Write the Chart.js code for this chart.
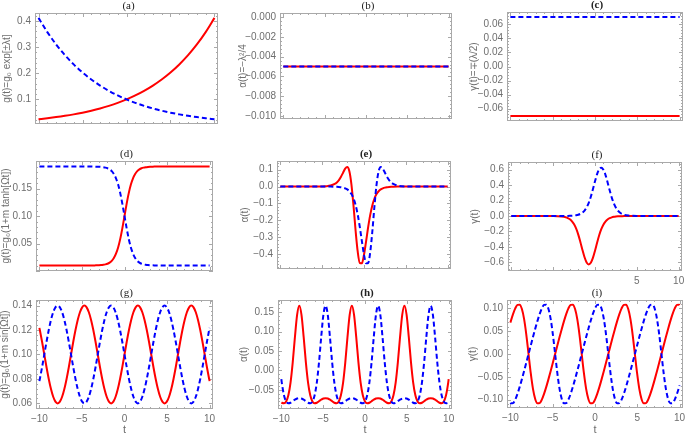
<!DOCTYPE html>
<html>
<head>
<meta charset="utf-8">
<script src="https://cdn.jsdelivr.net/npm/chart.js@4.4.1/dist/chart.umd.min.js"></script>
<style>
  html, body { margin: 0; padding: 0; background: #fff; }
  #figure { position: relative; width: 685px; height: 437px; overflow: hidden; background: #fff; }
  #figure canvas { position: absolute; }
</style>
</head>
<body>
<div id="figure"></div>
<script>
// ---- data ----

// (a),(b),(c): exponential coupling
var tExp = [-10, -9, -8, -7, -6, -5, -4, -3, -2, -1, 0, 1, 2, 3, 4, 5, 6, 7, 8, 9, 10];
var expRed = [0.0243, 0.0280, 0.0323, 0.0372, 0.0428, 0.0493, 0.0568, 0.0654, 0.0754, 0.0868, 0.1000,
  0.1152, 0.1327, 0.1529, 0.1761, 0.2028, 0.2336, 0.2691, 0.3100, 0.3571, 0.4113];
var expBlue = [0.4113, 0.3571, 0.3100, 0.2691, 0.2336, 0.2028, 0.1761, 0.1529, 0.1327, 0.1152, 0.1000,
  0.0868, 0.0754, 0.0654, 0.0568, 0.0493, 0.0428, 0.0372, 0.0323, 0.0280, 0.0243];

var tFlat = [-10, 10];
var alphaFlatRed = [-0.005, -0.005];
var alphaFlatBlue = [-0.005, -0.005];
var gammaFlatRed = [-0.0707, -0.0707];
var gammaFlatBlue = [0.0707, 0.0707];

// (d),(e),(f): tanh coupling
var tPulse = [-10, -9, -8, -7, -6, -5, -4.5, -4, -3.5, -3.25, -3, -2.75, -2.5, -2.25, -2, -1.75, -1.5, -1.25, -1, -0.75, -0.5, -0.25,
  0, 0.25, 0.5, 0.75, 1, 1.25, 1.5, 1.75, 2, 2.25, 2.5, 2.75, 3, 3.25, 3.5, 4, 4.5, 5, 6, 7, 8, 9, 10];
var tanhRed = [0.0100, 0.0100, 0.0100, 0.0100, 0.0100, 0.0100, 0.0100, 0.0101, 0.0102, 0.0103, 0.0104, 0.0107, 0.0112, 0.0120, 0.0132, 0.0153, 0.0185, 0.0237, 0.0315, 0.0428, 0.0584, 0.0780,
  0.1000, 0.1220, 0.1416, 0.1572, 0.1685, 0.1763, 0.1815, 0.1847, 0.1868, 0.1880, 0.1888, 0.1893, 0.1896, 0.1897, 0.1898, 0.1899, 0.1900, 0.1900, 0.1900, 0.1900, 0.1900, 0.1900, 0.1900];
var tanhBlue = [0.1900, 0.1900, 0.1900, 0.1900, 0.1900, 0.1900, 0.1900, 0.1899, 0.1898, 0.1897, 0.1896, 0.1893, 0.1888, 0.1880, 0.1868, 0.1847, 0.1815, 0.1763, 0.1685, 0.1572, 0.1416, 0.1220,
  0.1000, 0.0780, 0.0584, 0.0428, 0.0315, 0.0237, 0.0185, 0.0153, 0.0132, 0.0120, 0.0112, 0.0107, 0.0104, 0.0103, 0.0102, 0.0101, 0.0100, 0.0100, 0.0100, 0.0100, 0.0100, 0.0100, 0.0100];
var alphaPulseRed = [0, 0, 0, 0, 0.0001, 0.0008, 0.0022, 0.0059, 0.0155, 0.0248, 0.0387, 0.0584, 0.0826, 0.1064, 0.1162, 0.0907, 0.0120, -0.1167, -0.2643, -0.3874, -0.4541, -0.4559,
  -0.4050, -0.3252, -0.2404, -0.1669, -0.1106, -0.0709, -0.0446, -0.0276, -0.0170, -0.0104, -0.0063, -0.0039, -0.0023, -0.0014, -0.0009, -0.0003, -0.0001, 0, 0, 0, 0, 0, 0];
var alphaPulseBlue = [0, 0, 0, 0, 0, 0, -0.0001, -0.0003, -0.0009, -0.0014, -0.0023, -0.0039, -0.0063, -0.0104, -0.0170, -0.0276, -0.0446, -0.0709, -0.1106, -0.1669, -0.2404, -0.3252,
  -0.4050, -0.4559, -0.4541, -0.3874, -0.2643, -0.1167, 0.0120, 0.0907, 0.1162, 0.1064, 0.0826, 0.0584, 0.0387, 0.0248, 0.0155, 0.0059, 0.0022, 0.0008, 0.0001, 0, 0, 0, 0];
var gammaPulseRed = [0, 0, 0, 0, -0.0001, -0.0008, -0.0022, -0.0060, -0.0161, -0.0263, -0.0425, -0.0683, -0.1068, -0.1634, -0.2403, -0.3354, -0.4388, -0.5335, -0.6008, -0.6267, -0.6058, -0.5426,
  -0.4500, -0.3466, -0.2499, -0.1708, -0.1121, -0.0716, -0.0448, -0.0277, -0.0170, -0.0104, -0.0063, -0.0039, -0.0023, -0.0014, -0.0009, -0.0003, -0.0001, 0, 0, 0, 0, 0, 0];
var gammaPulseBlue = [0, 0, 0, 0, 0, 0, 0.0001, 0.0003, 0.0009, 0.0014, 0.0023, 0.0039, 0.0063, 0.0104, 0.0170, 0.0277, 0.0448, 0.0716, 0.1121, 0.1708, 0.2499, 0.3466,
  0.4500, 0.5426, 0.6058, 0.6267, 0.6008, 0.5335, 0.4388, 0.3354, 0.2403, 0.1634, 0.1068, 0.0683, 0.0425, 0.0263, 0.0161, 0.0060, 0.0022, 0.0008, 0.0001, 0, 0, 0, 0];

// (g),(h),(i): sin coupling
var tWave = [-10, -9.9484, -9.6866, -9.4248, -9.1630, -8.9012, -8.6394, -8.3776, -8.1158, -7.8540, -7.5922, -7.3304, -7.0686, -6.8068, -6.5450,
  -6.2832, -6.0214, -5.7596, -5.4978, -5.2360, -4.9742, -4.7124, -4.4506, -4.1888, -3.9270, -3.6652, -3.4034, -3.1416, -2.8798, -2.6180, -2.3562, -2.0944, -1.8326, -1.5708, -1.3090, -1.0472, -0.7854, -0.5236, -0.2618,
  0, 0.2618, 0.5236, 0.7854, 1.0472, 1.3090, 1.5708, 1.8326, 2.0944, 2.3562, 2.6180, 2.8798, 3.1416, 3.4034, 3.6652, 3.9270, 4.1888, 4.4506, 4.7124, 4.9742, 5.2360, 5.4978, 5.7596, 6.0214,
  6.2832, 6.5450, 6.8068, 7.0686, 7.3304, 7.5922, 7.8540, 8.1158, 8.3776, 8.6394, 8.9012, 9.1630, 9.4248, 9.6866, 9.9484, 10];
var sinRed = [0.1218, 0.1200, 0.1104, 0.1000, 0.0896, 0.0800, 0.0717, 0.0654, 0.0614, 0.0600, 0.0614, 0.0654, 0.0717, 0.0800, 0.0896,
  0.1000, 0.1104, 0.1200, 0.1283, 0.1346, 0.1386, 0.1400, 0.1386, 0.1346, 0.1283, 0.1200, 0.1104, 0.1000, 0.0896, 0.0800, 0.0717, 0.0654, 0.0614, 0.0600, 0.0614, 0.0654, 0.0717, 0.0800, 0.0896,
  0.1000, 0.1104, 0.1200, 0.1283, 0.1346, 0.1386, 0.1400, 0.1386, 0.1346, 0.1283, 0.1200, 0.1104, 0.1000, 0.0896, 0.0800, 0.0717, 0.0654, 0.0614, 0.0600, 0.0614, 0.0654, 0.0717, 0.0800, 0.0896,
  0.1000, 0.1104, 0.1200, 0.1283, 0.1346, 0.1386, 0.1400, 0.1386, 0.1346, 0.1283, 0.1200, 0.1104, 0.1000, 0.0896, 0.0800, 0.0782];
var sinBlue = [0.0782, 0.0800, 0.0896, 0.1000, 0.1104, 0.1200, 0.1283, 0.1346, 0.1386, 0.1400, 0.1386, 0.1346, 0.1283, 0.1200, 0.1104,
  0.1000, 0.0896, 0.0800, 0.0717, 0.0654, 0.0614, 0.0600, 0.0614, 0.0654, 0.0717, 0.0800, 0.0896, 0.1000, 0.1104, 0.1200, 0.1283, 0.1346, 0.1386, 0.1400, 0.1386, 0.1346, 0.1283, 0.1200, 0.1104,
  0.1000, 0.0896, 0.0800, 0.0717, 0.0654, 0.0614, 0.0600, 0.0614, 0.0654, 0.0717, 0.0800, 0.0896, 0.1000, 0.1104, 0.1200, 0.1283, 0.1346, 0.1386, 0.1400, 0.1386, 0.1346, 0.1283, 0.1200, 0.1104,
  0.1000, 0.0896, 0.0800, 0.0717, 0.0654, 0.0614, 0.0600, 0.0614, 0.0654, 0.0717, 0.0800, 0.0896, 0.1000, 0.1104, 0.1200, 0.1218];
var alphaWaveRed = [-0.0827, -0.0833, -0.0847, -0.0800, -0.0640, -0.0313, 0.0208, 0.0857, 0.1432, 0.1667, 0.1432, 0.0857, 0.0208, -0.0313, -0.0640,
  -0.0800, -0.0847, -0.0833, -0.0794, -0.0754, -0.0725, -0.0714, -0.0725, -0.0754, -0.0794, -0.0833, -0.0847, -0.0800, -0.0640, -0.0313, 0.0208, 0.0857, 0.1432, 0.1667, 0.1432, 0.0857, 0.0208, -0.0313, -0.0640,
  -0.0800, -0.0847, -0.0833, -0.0794, -0.0754, -0.0725, -0.0714, -0.0725, -0.0754, -0.0794, -0.0833, -0.0847, -0.0800, -0.0640, -0.0313, 0.0208, 0.0857, 0.1432, 0.1667, 0.1432, 0.0857, 0.0208, -0.0313, -0.0640,
  -0.0800, -0.0847, -0.0833, -0.0794, -0.0754, -0.0725, -0.0714, -0.0725, -0.0754, -0.0794, -0.0833, -0.0847, -0.0800, -0.0640, -0.0313, -0.0225];
var alphaWaveBlue = [-0.0225, -0.0313, -0.0640, -0.0800, -0.0847, -0.0833, -0.0794, -0.0754, -0.0725, -0.0714, -0.0725, -0.0754, -0.0794, -0.0833, -0.0847,
  -0.0800, -0.0640, -0.0313, 0.0208, 0.0857, 0.1432, 0.1667, 0.1432, 0.0857, 0.0208, -0.0313, -0.0640, -0.0800, -0.0847, -0.0833, -0.0794, -0.0754, -0.0725, -0.0714, -0.0725, -0.0754, -0.0794, -0.0833, -0.0847,
  -0.0800, -0.0640, -0.0313, 0.0208, 0.0857, 0.1432, 0.1667, 0.1432, 0.0857, 0.0208, -0.0313, -0.0640, -0.0800, -0.0847, -0.0833, -0.0794, -0.0754, -0.0725, -0.0714, -0.0725, -0.0754, -0.0794, -0.0833, -0.0847,
  -0.0800, -0.0640, -0.0313, 0.0208, 0.0857, 0.1432, 0.1667, 0.1432, 0.0857, 0.0208, -0.0313, -0.0640, -0.0800, -0.0847, -0.0833, -0.0827];
var gammaWaveRed = [0.0689, 0.0722, 0.0875, 0.1000, 0.1078, 0.1083, 0.0986, 0.0765, 0.0422, 0, -0.0422, -0.0765, -0.0986, -0.1083, -0.1078,
  -0.1000, -0.0875, -0.0722, -0.0551, -0.0371, -0.0187, 0, 0.0187, 0.0371, 0.0551, 0.0722, 0.0875, 0.1000, 0.1078, 0.1083, 0.0986, 0.0765, 0.0422, 0, -0.0422, -0.0765, -0.0986, -0.1083, -0.1078,
  -0.1000, -0.0875, -0.0722, -0.0551, -0.0371, -0.0187, 0, 0.0187, 0.0371, 0.0551, 0.0722, 0.0875, 0.1000, 0.1078, 0.1083, 0.0986, 0.0765, 0.0422, 0, -0.0422, -0.0765, -0.0986, -0.1083, -0.1078,
  -0.1000, -0.0875, -0.0722, -0.0551, -0.0371, -0.0187, 0, 0.0187, 0.0371, 0.0551, 0.0722, 0.0875, 0.1000, 0.1078, 0.1083, 0.1073];
var gammaWaveBlue = [-0.1072, -0.1083, -0.1078, -0.1000, -0.0875, -0.0722, -0.0551, -0.0371, -0.0187, 0, 0.0187, 0.0371, 0.0551, 0.0722, 0.0875,
  0.1000, 0.1078, 0.1083, 0.0986, 0.0765, 0.0422, 0, -0.0422, -0.0765, -0.0986, -0.1083, -0.1078, -0.1000, -0.0875, -0.0722, -0.0551, -0.0371, -0.0187, 0, 0.0187, 0.0371, 0.0551, 0.0722, 0.0875,
  0.1000, 0.1078, 0.1083, 0.0986, 0.0765, 0.0422, 0, -0.0422, -0.0765, -0.0986, -0.1083, -0.1078, -0.1000, -0.0875, -0.0722, -0.0551, -0.0371, -0.0187, 0, 0.0187, 0.0371, 0.0551, 0.0722, 0.0875,
  0.1000, 0.1078, 0.1083, 0.0986, 0.0765, 0.0422, 0, -0.0422, -0.0765, -0.0986, -0.1083, -0.1078, -0.1000, -0.0875, -0.0722, -0.0689];

// tick labels
var xTicks = [-10, -5, 0, 5, 10];
var yTicksA = [0.1, 0.2, 0.3, 0.4];
var yTicksB = [-0.010, -0.008, -0.006, -0.004, -0.002, 0.000];
var yTicksC = [-0.06, -0.04, -0.02, 0, 0.02, 0.04, 0.06];
var yTicksD = [0.05, 0.10, 0.15];
var yTicksE = [-0.4, -0.3, -0.2, -0.1, 0, 0.1];
var yTicksF = [-0.6, -0.4, -0.2, 0, 0.2, 0.4, 0.6];
var yTicksG = [0.06, 0.08, 0.10, 0.12, 0.14];
var yTicksH = [-0.05, 0, 0.05, 0.10, 0.15];
var yTicksI = [-0.10, -0.05, 0, 0.05, 0.10];

var labelFont = '"Liberation Sans", Arial, sans-serif';
var labelColor = '#6e6e6e';
var frameColor = '#a9a9a9';

// panel layout: cell = canvas box on the page, plot = frame box on the page
var panels = [
  { title: '(a)', cell: [0, 0, 228, 146], plot: [35, 13, 218, 124], t: tExp, red: expRed, blue: expBlue,
    yMin: 0.006, yMax: 0.43, yTicks: yTicksA, dec: 1, yLabel: 'g(t)=g\u2080 exp[\u00b1\u03bbt]', yPad: 1, xShown: [] },
  { title: '(b)', cell: [228, 0, 228, 146], plot: [280, 13, 452, 119], t: tFlat, red: alphaFlatRed, blue: alphaFlatBlue,
    yMin: -0.0103, yMax: 0.0004, yTicks: yTicksB, dec: 3, yLabel: '\u03b1(t)=\u2212\u03bb\u00b2/4', yPad: 9, xShown: [] },
  { title: '(c)', bold: true, cell: [456, 0, 229, 146], plot: [507, 12, 683, 121], t: tFlat, red: gammaFlatRed, blue: gammaFlatBlue,
    yMin: -0.0778, yMax: 0.0778, yTicks: yTicksC, dec: 2, yLabel: '\u03b3(t)=\u2213(\u03bb/2)', yPad: 12, xShown: [] },
  { title: '(d)', cell: [0, 146, 228, 139], plot: [36, 161, 213, 271], t: tPulse, red: tanhRed, blue: tanhBlue,
    yMin: 0.0, yMax: 0.2, yTicks: yTicksD, dec: 2, yLabel: 'g(t)=g\u2080(1+m tanh[\u03a9t])', yPad: 0, xShown: [] },
  { title: '(e)', bold: true, cell: [228, 146, 228, 139], plot: [277, 161, 451, 269], t: tPulse, red: alphaPulseRed, blue: alphaPulseBlue,
    yMin: -0.49, yMax: 0.152, yTicks: yTicksE, dec: 1, yLabel: '\u03b1(t)', yPad: 11, xShown: [] },
  { title: '(f)', cell: [456, 146, 229, 139], plot: [508, 162, 682, 271], t: tPulse, red: gammaPulseRed, blue: gammaPulseBlue,
    yMin: -0.712, yMax: 0.70, yTicks: yTicksF, dec: 1, yLabel: '\u03b3(t)', yPad: 13, xShown: [5, 10] },
  { title: '(g)', cell: [0, 285, 228, 152], plot: [36, 300, 213, 409], t: tWave, red: sinRed, blue: sinBlue,
    yMin: 0.0554, yMax: 0.1446, yTicks: yTicksG, dec: 2, yLabel: 'g(t)=g\u2080(1+m sin[\u03a9t])', yPad: -1, xShown: xTicks, tTitle: true },
  { title: '(h)', bold: true, cell: [228, 285, 228, 152], plot: [278, 300, 452, 409], t: tWave, red: alphaWaveRed, blue: alphaWaveBlue,
    yMin: -0.0994, yMax: 0.1814, yTicks: yTicksH, dec: 2, yLabel: '\u03b1(t)', yPad: 10, xShown: xTicks, tTitle: true },
  { title: '(i)', cell: [456, 285, 229, 152], plot: [507, 300, 683, 408], t: tWave, red: gammaWaveRed, blue: gammaWaveBlue,
    yMin: -0.1185, yMax: 0.1185, yTicks: yTicksI, dec: 2, yLabel: '\u03b3(t)', yPad: 11, xShown: xTicks, tTitle: true }
];

// number format with a real minus sign
function fmt(v, dec) {
  if (Math.abs(v) < 1e-12) v = 0;
  return v.toFixed(dec).replace('-', '\u2212');
}

function pairs(xs, ys) {
  return xs.map(function (x, i) { return { x: x, y: ys[i] }; });
}

// inward frame ticks, major at the tick labels, 4 minor between
function tickMarks(ctx, scale, a, horizontal) {
  var step = scale.ticks[1].value - scale.ticks[0].value;
  var minor = step / 5;
  var i0 = Math.ceil(scale.min / minor - 1e-6);
  var i1 = Math.floor(scale.max / minor + 1e-6);
  ctx.beginPath();
  for (var i = i0; i <= i1; i++) {
    var p = Math.round(scale.getPixelForValue(i * minor)) + 0.5;
    var len = (i % 5 === 0) ? 4 : 2;
    if (horizontal) {
      ctx.moveTo(p, a.bottom); ctx.lineTo(p, a.bottom - len);
      ctx.moveTo(p, a.top); ctx.lineTo(p, a.top + len);
    } else {
      ctx.moveTo(a.left, p); ctx.lineTo(a.left + len, p);
      ctx.moveTo(a.right, p); ctx.lineTo(a.right - len, p);
    }
  }
  ctx.stroke();
}

var frameTicks = {
  id: 'frameTicks',
  beforeDatasetsDraw: function (chart) {
    var a = chart.chartArea, ctx = chart.ctx;
    ctx.save();
    ctx.strokeStyle = frameColor;
    ctx.lineWidth = 1;
    ctx.strokeRect(a.left + 0.5, a.top + 0.5, a.right - a.left - 1, a.bottom - a.top - 1);
    tickMarks(ctx, chart.scales.x, a, true);
    tickMarks(ctx, chart.scales.y, a, false);
    ctx.restore();
  }
};

var panelTitle = {
  id: 'panelTitle',
  afterDraw: function (chart, args, opts) {
    var a = chart.chartArea, ctx = chart.ctx;
    ctx.save();
    ctx.font = (opts.bold ? 'bold ' : '') + '11px "Liberation Serif", serif';
    ctx.fillStyle = '#222';
    ctx.textAlign = 'center';
    ctx.textBaseline = 'middle';
    ctx.fillText(opts.text, (a.left + a.right) / 2 + 2, a.top - 7);
    ctx.restore();
  }
};

function buildPanel(p) {
  var canvas = document.createElement('canvas');
  canvas.width = p.cell[2];
  canvas.height = p.cell[3];
  canvas.style.left = p.cell[0] + 'px';
  canvas.style.top = p.cell[1] + 'px';
  document.getElementById('figure').appendChild(canvas);

  var yWidth = p.plot[0] - p.cell[0];
  var padTop = p.plot[1] - p.cell[1];
  var padRight = p.cell[0] + p.cell[2] - p.plot[2];
  var xHeight = p.cell[1] + p.cell[3] - p.plot[3];

  return new Chart(canvas, {
    type: 'line',
    data: {
      datasets: [
        { data: pairs(p.t, p.blue), borderColor: '#0000ff', borderDash: [5, 3], order: 1 },
        { data: pairs(p.t, p.red), borderColor: '#ff0000', order: 2 }
      ]
    },
    options: {
      responsive: false,
      animation: false,
      devicePixelRatio: 1,
      layout: { padding: { left: 0, top: padTop, right: padRight, bottom: 0 } },
      elements: {
        point: { radius: 0 },
        line: { borderWidth: 2, cubicInterpolationMode: 'monotone', fill: false }
      },
      plugins: {
        legend: { display: false },
        tooltip: { enabled: false },
        panelTitle: { text: p.title, bold: !!p.bold }
      },
      scales: {
        x: {
          type: 'linear', min: -10.4, max: 10.4,
          grid: { display: false, drawTicks: false },
          border: { display: false },
          afterBuildTicks: function (s) { s.ticks = xTicks.map(function (v) { return { value: v }; }); },
          afterFit: function (s) { s.height = xHeight; s.paddingLeft = 0; s.paddingRight = 0; },
          ticks: {
            display: p.xShown.length > 0, autoSkip: false, maxRotation: 0, padding: 4,
            color: labelColor, font: { family: labelFont, size: 10 },
            callback: function (v) { return p.xShown.indexOf(v) >= 0 ? fmt(v, 0) : ''; }
          },
          title: {
            display: !!p.tTitle, text: 't', color: labelColor,
            font: { family: labelFont, size: 11 }, padding: { top: 0, bottom: 0 }
          }
        },
        y: {
          type: 'linear', min: p.yMin, max: p.yMax,
          grid: { display: false, drawTicks: false },
          border: { display: false },
          afterBuildTicks: function (s) { s.ticks = p.yTicks.map(function (v) { return { value: v }; }); },
          afterFit: function (s) { s.width = yWidth; s.paddingTop = 0; s.paddingBottom = 0; },
          ticks: {
            autoSkip: false, padding: 4,
            color: labelColor, font: { family: labelFont, size: 10 },
            callback: function (v) { return fmt(v, p.dec); }
          },
          title: {
            display: true, text: p.yLabel, color: labelColor,
            font: { family: labelFont, size: 10 }, padding: { top: p.yPad, bottom: 0 }
          }
        }
      }
    },
    plugins: [frameTicks, panelTitle]
  });
}

panels.forEach(buildPanel);
</script>
</body>
</html>
